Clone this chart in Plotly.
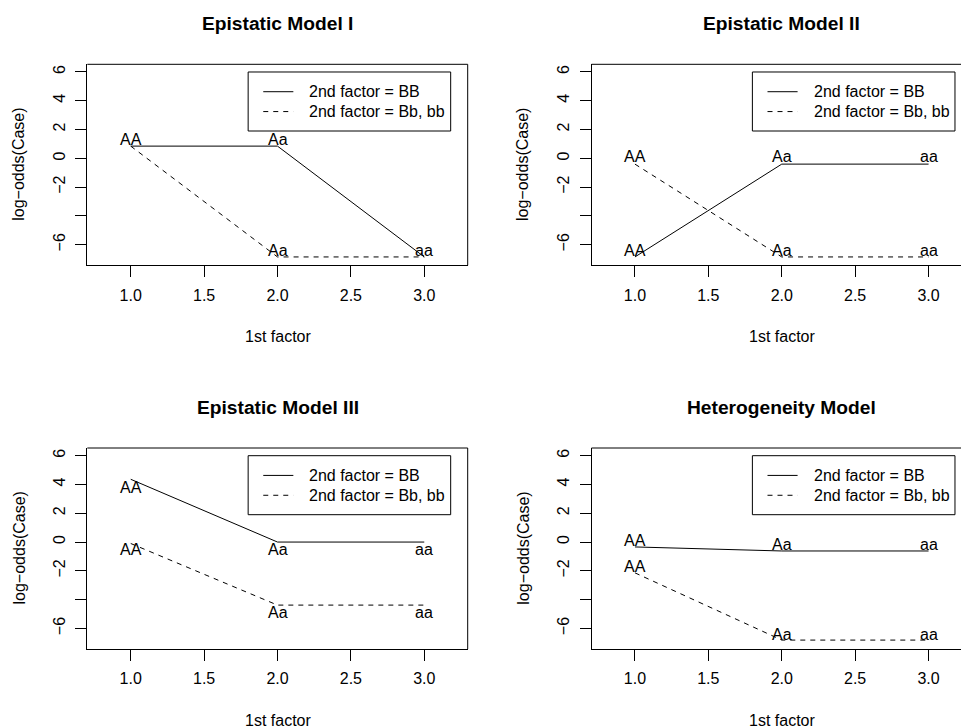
import plotly.graph_objects as go

# ---------------- data ----------------
x_levels = [1, 2, 3]
genotype_labels = ["AA", "Aa", "aa"]

titles = ["Epistatic Model I", "Epistatic Model II", "Epistatic Model III", "Heterogeneity Model"]

# log-odds(Case) for 2nd factor = BB (solid) and Bb, bb (dashed)
bb_solid = [
    [0.85, 0.85, -6.85],     # Epistatic Model I
    [-6.85, -0.40, -0.40],   # Epistatic Model II
    [4.36, 0.0, 0.0],        # Epistatic Model III
    [-0.34, -0.62, -0.62],   # Heterogeneity Model
]
bb_dashed = [
    [0.85, -6.85, -6.85],
    [-0.40, -6.85, -6.85],
    [-0.10, -4.38, -4.38],
    [-2.14, -6.81, -6.81],
]
# y positions of the genotype text labels
label_y_solid = [
    [1.34, 1.34, None],
    [-6.38, 0.12, 0.12],
    [3.80, -0.52, -0.52],
    [0.09, -0.14, -0.14],
]
label_y_dashed = [
    [None, -6.38, -6.38],
    [0.12, -6.38, -6.38],
    [-0.52, -4.88, -4.88],
    [-1.70, -6.44, -6.42],
]

legend_labels = ["2nd factor = BB", "2nd factor = Bb, bb"]

x_ticks = [1.0, 1.5, 2.0, 2.5, 3.0]
x_ticktext = ["1.0", "1.5", "2.0", "2.5", "3.0"]
y_ticks = [-6, -4, -2, 0, 2, 4, 6]
y_ticktext = ["\u22126", "", "\u22122", "0", "2", "4", "6"]

x_title = "1st factor"
y_title = "log\u2212odds(Case)"

# ---------------- layout helpers ----------------
W, H = 961, 727
FONT = "Liberation Sans, Arial, Helvetica, sans-serif"


def px_x(v):
    return v / W


def px_y(v):
    return 1 - v / H


# panel geometry in pixels: (left, right_visible, full_right, top, bottom)
panels = [
    (87.3, 467.7, 467.7, 64.3, 265.3),
    (591.5, 961.0, 972.0, 64.3, 265.3),
    (87.3, 467.7, 467.7, 448.0, 649.0),
    (591.5, 961.0, 972.0, 448.0, 649.0),
]
x_range_full = [0.704, 3.296]
y_range = [-7.43, 6.534]

fig = go.Figure()
layout = dict(
    width=W, height=H,
    margin=dict(l=0, r=0, t=0, b=0),
    paper_bgcolor="white", plot_bgcolor="white",
    showlegend=False,
    font=dict(family=FONT, size=16, color="black"),
)
annotations = []
shapes = []

for i in range(4):
    left, right_vis, right_full, top, bottom = panels[i]
    sfx = "" if i == 0 else str(i + 1)
    xa, ya = "x" + sfx, "y" + sfx
    # visible x range (panel may be cut by the image edge)
    ppu = (right_full - left) / (x_range_full[1] - x_range_full[0])
    xr = [x_range_full[0], x_range_full[0] + (right_vis - left) / ppu]

    layout["xaxis" + sfx] = dict(
        domain=[px_x(left), px_x(right_vis)], range=xr, anchor=ya,
        showgrid=False, zeroline=False, showline=True, linecolor="black", linewidth=1,
        ticks="outside", ticklen=11, tickcolor="black", tickwidth=1,
        tickvals=x_ticks, ticktext=x_ticktext, tickfont=dict(size=16, family=FONT),
        ticklabelstandoff=4,
        fixedrange=True,
    )
    layout["yaxis" + sfx] = dict(
        domain=[px_y(bottom), px_y(top)], range=y_range, anchor=xa,
        showgrid=False, zeroline=False, showline=True, linecolor="black", linewidth=1,
        ticks="outside", ticklen=11, tickcolor="black", tickwidth=1,
        tickvals=y_ticks, ticktext=y_ticktext, tickangle=-90,
        tickfont=dict(size=16, family=FONT),
        ticklabelstandoff=4,
        fixedrange=True,
    )

    # box top / right
    shapes.append(dict(type="line", xref=xa + " domain", yref=ya + " domain",
                       x0=0, x1=1, y0=1, y1=1, line=dict(color="black", width=1)))
    if right_vis == right_full:
        shapes.append(dict(type="line", xref=xa + " domain", yref=ya + " domain",
                           x0=1, x1=1, y0=0, y1=1, line=dict(color="black", width=1)))

    # data lines
    fig.add_trace(go.Scatter(x=x_levels, y=bb_solid[i], mode="lines", xaxis=xa, yaxis=ya,
                             line=dict(color="black", width=1), hoverinfo="skip"))
    fig.add_trace(go.Scatter(x=x_levels, y=bb_dashed[i], mode="lines", xaxis=xa, yaxis=ya,
                             line=dict(color="black", width=1, dash="5px,5px"), hoverinfo="skip"))

    # genotype labels
    for arr in (label_y_solid[i], label_y_dashed[i]):
        for xv, yv, lab in zip(x_levels, arr, genotype_labels):
            if yv is None:
                continue
            annotations.append(dict(x=xv, y=yv, xref=xa, yref=ya, text=lab, showarrow=False,
                                    xanchor="center", yanchor="middle",
                                    font=dict(size=16, family=FONT, color="black")))

    # legend box
    shapes.append(dict(type="rect", xref=xa, yref=ya, x0=1.80, x1=3.18, y0=1.90, y1=6.0,
                       line=dict(color="black", width=1), fillcolor="white", layer="above"))
    for k, (ly, dash) in enumerate(((4.63, "solid"), (3.25, "5px,5px"))):
        shapes.append(dict(type="line", xref=xa, yref=ya, x0=1.903, x1=2.108, y0=ly, y1=ly,
                           line=dict(color="black", width=1, dash=dash), layer="above"))
        annotations.append(dict(x=2.203, y=ly, xref=xa, yref=ya, text=legend_labels[k],
                                showarrow=False, xanchor="left", yanchor="middle",
                                font=dict(size=16, family=FONT, color="black")))

    # titles
    cx = (left + right_full) / 2
    annotations.append(dict(x=px_x(cx), y=px_y(top - 40.6), xref="paper", yref="paper",
                            text="<b>" + titles[i] + "</b>", showarrow=False,
                            xanchor="center", yanchor="middle",
                            font=dict(size=19.2, family=FONT, color="black")))
    annotations.append(dict(x=px_x(cx), y=px_y(bottom + 71), xref="paper", yref="paper",
                            text=x_title, showarrow=False, xanchor="center", yanchor="middle",
                            font=dict(size=16, family=FONT, color="black")))
    annotations.append(dict(x=px_x(left - 68.3), y=px_y((top + bottom) / 2), xref="paper",
                            yref="paper", text=y_title, showarrow=False, textangle=-90,
                            xanchor="center", yanchor="middle",
                            font=dict(size=16, family=FONT, color="black")))

layout["annotations"] = annotations
layout["shapes"] = shapes
fig.update_layout(**layout)
fig.write_html("out.html")
